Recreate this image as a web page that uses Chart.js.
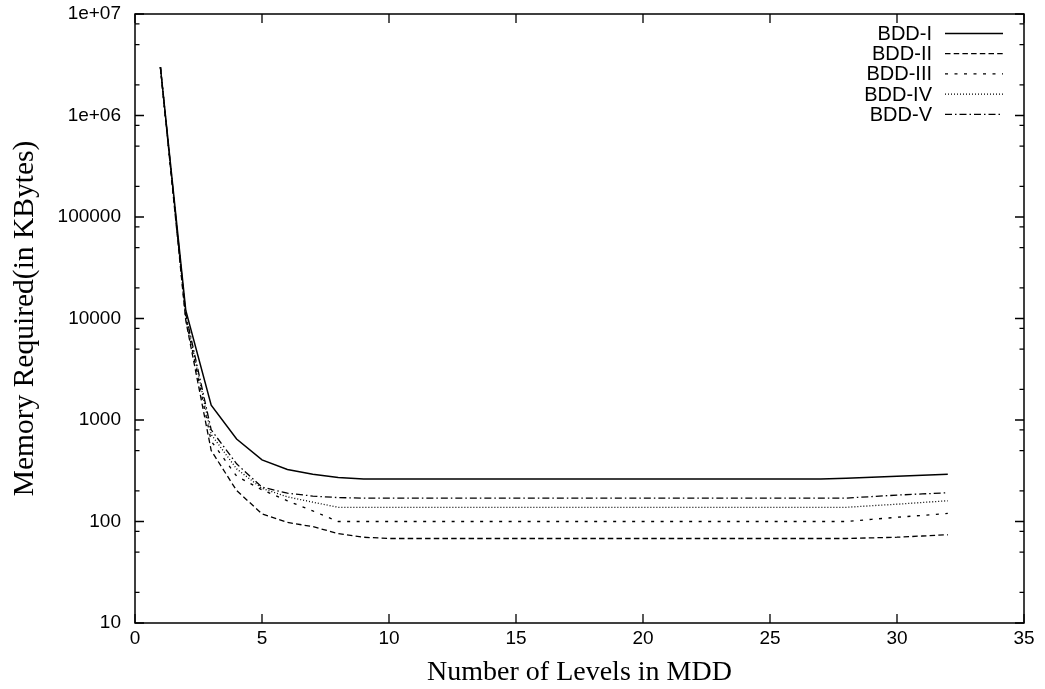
<!DOCTYPE html>
<html>
<head>
<meta charset="utf-8">
<script src="https://cdn.jsdelivr.net/npm/chart.js@4/dist/chart.umd.min.js"></script>
<style>
  html, body { margin: 0; padding: 0; background: #fff; }
  #wrap { width: 1045px; height: 689px; }
</style>
</head>
<body>
<div id="wrap"><canvas id="memory-chart"></canvas></div>
<script>
// levels in the MDD (x axis)
const levels = [1, 2, 3, 4, 5, 6, 7, 8, 9, 10, 11, 12, 13, 14, 15, 16,
                17, 18, 19, 20, 21, 22, 23, 24, 25, 26, 27, 28, 29, 30, 31, 32];

// memory required in KBytes, one value per level
const bddI = [3000000, 12000, 1400, 650, 405, 325, 292, 272, 262, 262, 262, 262, 262, 262, 262, 262,
              262, 262, 262, 262, 262, 262, 262, 262, 262, 262, 262, 267, 273, 279, 286, 292];
const bddII = [3000000, 9500, 500, 202, 119, 98, 89, 76, 70, 68, 68, 68, 68, 68, 68, 68,
               68, 68, 68, 68, 68, 68, 68, 68, 68, 68, 68, 68, 69, 70, 72, 74];
const bddIII = [3000000, 10000, 620, 280, 205, 160, 127, 100, 100, 100, 100, 100, 100, 100, 100, 100,
                100, 100, 100, 100, 100, 100, 100, 100, 100, 100, 100, 100, 105, 110, 115, 120];
const bddIV = [3000000, 10500, 720, 330, 212, 175, 155, 138, 138, 138, 138, 138, 138, 138, 138, 138,
               138, 138, 138, 138, 138, 138, 138, 138, 138, 138, 138, 138, 143, 148, 154, 160];
const bddV = [3000000, 11000, 800, 370, 218, 190, 178, 172, 170, 170, 170, 170, 170, 170, 170, 170,
              170, 170, 170, 170, 170, 170, 170, 170, 170, 170, 170, 170, 176, 182, 187, 192];

const seriesNames = ['BDD-I', 'BDD-II', 'BDD-III', 'BDD-IV', 'BDD-V'];
const seriesValues = [bddI, bddII, bddIII, bddIV, bddV];
const dashes = [[], [5.5, 3.2], [3, 6.5], [1, 2], [7, 3, 1.5, 3]];

// y axis tick values: decades plus minor tics at 2, 5, 8
const decades = [10, 100, 1000, 10000, 100000, 1000000, 10000000];
const minorSteps = [2, 5, 8];

const sansFont = '"Liberation Sans", Arial, Helvetica, sans-serif';
const serifFont = '"Liberation Serif", "Times New Roman", serif';

const datasets = seriesNames.map(function(name, i) {
    return {
        label: name,
        data: levels.map(function(l, j) { return { x: l, y: seriesValues[i][j] }; }),
        borderColor: '#000',
        borderWidth: i === 0 ? 1.5 : 1.3,
        borderDash: dashes[i],
        pointRadius: 0,
        tension: 0,
        fill: false
    };
});

function isDecade(v) {
    return decades.indexOf(v) !== -1;
}

function fmtTick(v) {
    if (v >= 1000000) {
        const e = Math.round(Math.log10(v));
        return '1e+' + (e < 10 ? '0' + e : e);
    }
    return String(v);
}

// frame, inward tics on all four sides and the gnuplot-like key
const framePlugin = {
    id: 'frame',
    afterDraw: function(chart) {
        const ctx = chart.ctx;
        const a = chart.chartArea;
        const xs = chart.scales.x;
        const ys = chart.scales.y;
        ctx.save();
        ctx.strokeStyle = '#000';
        ctx.lineWidth = 1.5;
        ctx.setLineDash([]);
        ctx.strokeRect(a.left, a.top, a.right - a.left, a.bottom - a.top);

        ctx.lineWidth = 1.3;
        ctx.beginPath();
        xs.ticks.forEach(function(t) {
            const px = xs.getPixelForValue(t.value);
            ctx.moveTo(px, a.bottom); ctx.lineTo(px, a.bottom - 9);
            ctx.moveTo(px, a.top); ctx.lineTo(px, a.top + 9);
        });
        ys.ticks.forEach(function(t) {
            const py = ys.getPixelForValue(t.value);
            const len = isDecade(t.value) ? 9 : 4.5;
            ctx.moveTo(a.left, py); ctx.lineTo(a.left + len, py);
            ctx.moveTo(a.right, py); ctx.lineTo(a.right - len, py);
        });
        ctx.stroke();

        // key
        const textRight = 932;
        const lineStart = 945;
        const lineEnd = 1003;
        ctx.font = '20px ' + sansFont;
        ctx.fillStyle = '#000';
        ctx.textAlign = 'right';
        ctx.textBaseline = 'middle';
        chart.data.datasets.forEach(function(ds, i) {
            const y = 33.5 + i * 20.2;
            ctx.fillText(ds.label, textRight, y + 1);
            ctx.lineWidth = ds.borderWidth;
            ctx.setLineDash(ds.borderDash);
            ctx.beginPath();
            ctx.moveTo(lineStart, y);
            ctx.lineTo(lineEnd, y);
            ctx.stroke();
        });
        ctx.restore();
    }
};

const config = {
    type: 'line',
    data: { datasets: datasets },
    options: {
        responsive: true,
        maintainAspectRatio: false,
        animation: false,
        layout: { padding: { top: 14, right: 21, left: 0, bottom: 0 } },
        plugins: {
            legend: { display: false },
            tooltip: { enabled: false }
        },
        scales: {
            x: {
                type: 'linear',
                min: 0,
                max: 35,
                grid: { display: false, drawTicks: false },
                border: { display: false },
                ticks: {
                    stepSize: 5,
                    color: '#000',
                    padding: 4,
                    maxRotation: 0,
                    font: { family: sansFont, size: 19 }
                },
                title: {
                    display: true,
                    text: 'Number of Levels in MDD',
                    color: '#000',
                    padding: { top: 0, bottom: 0 },
                    font: { family: serifFont, size: 28 }
                },
                afterFit: function(scale) {
                    scale.height = 66;
                    scale.paddingLeft = 0;
                    scale.paddingRight = 0;
                }
            },
            y: {
                type: 'logarithmic',
                min: 10,
                max: 10000000,
                grid: { display: false, drawTicks: false },
                border: { display: false },
                afterBuildTicks: function(scale) {
                    const ticks = [];
                    decades.forEach(function(d, i) {
                        ticks.push({ value: d });
                        if (i < decades.length - 1) {
                            minorSteps.forEach(function(m) { ticks.push({ value: d * m }); });
                        }
                    });
                    scale.ticks = ticks;
                },
                ticks: {
                    autoSkip: false,
                    color: '#000',
                    padding: 14,
                    font: { family: sansFont, size: 19 },
                    callback: function(value) {
                        return isDecade(value) ? fmtTick(value) : '';
                    }
                },
                title: {
                    display: true,
                    text: 'Memory Required(in KBytes)',
                    color: '#000',
                    padding: { top: 8, bottom: 0 },
                    font: { family: serifFont, size: 29.5 }
                },
                afterFit: function(scale) {
                    scale.width = 135;
                    scale.paddingTop = 0;
                    scale.paddingBottom = 0;
                }
            }
        }
    },
    plugins: [framePlugin]
};

new Chart(document.getElementById('memory-chart'), config);
</script>
</body>
</html>
